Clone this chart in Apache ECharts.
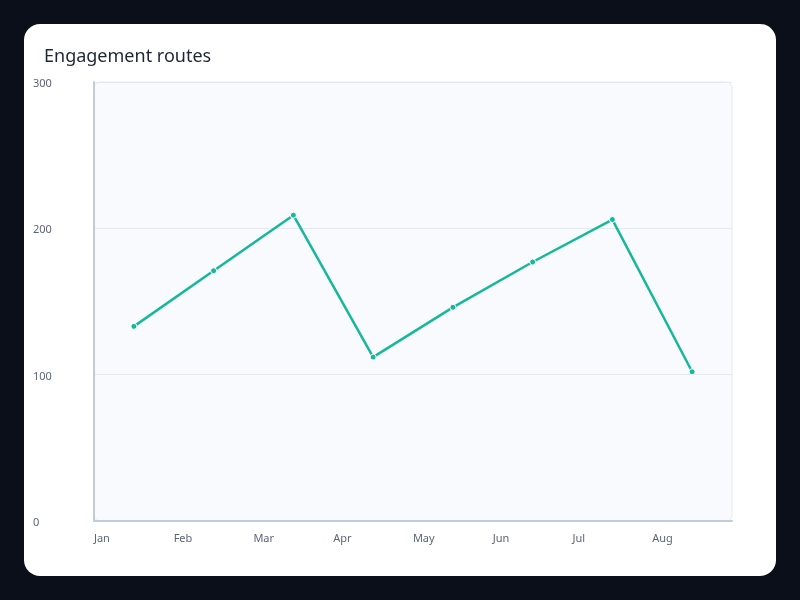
<!DOCTYPE html>
<html>
<head>
<meta charset="utf-8">
<script src="https://cdn.jsdelivr.net/npm/echarts@6/dist/echarts.min.js"></script>
<style>
    html, body { margin: 0; padding: 0; background: #0b0f19; }
    #card { position: absolute; left: 24px; top: 24px; width: 752px; height: 552px; background: #ffffff; border-radius: 16px; }
    #main { position: absolute; left: 0; top: 0; width: 800px; height: 600px; }
</style>
</head>
<body>
<div id="card"></div>
<div id="main"></div>
<script>
var months = ['Jan', 'Feb', 'Mar', 'Apr', 'May', 'Jun', 'Jul', 'Aug'];
var routeValues = [133, 171, 209, 112, 146, 177, 206, 102];
var yTicks = [0, 100, 200, 300];

var lineColor = '#17b79c';
var labelColor = '#5b6478';

var chart = echarts.init(document.getElementById('main'));

var option = {
    backgroundColor: 'transparent',
    textStyle: { fontFamily: 'Noto Sans' },
    title: {
        text: 'Engagement routes',
        left: 39,
        top: 43,
        textStyle: { fontFamily: 'Noto Sans', fontSize: 18, fontWeight: 'normal', color: '#1e2535' }
    },
    grid: { left: 94, right: 68, top: 82, bottom: 79, containLabel: false },
    graphic: [
        {
            type: 'rect',
            z: -10,
            silent: true,
            shape: { x: 94, y: 82, width: 638, height: 439, r: 6 },
            style: { fill: '#f8fafe', stroke: '#e4e9f1', lineWidth: 1 }
        }
    ],
    xAxis: {
        type: 'category',
        data: months,
        boundaryGap: true,
        axisLine: { show: true, lineStyle: { color: '#c2cbd8', width: 2 } },
        axisTick: { show: false },
        axisLabel: {
            margin: 12,
            color: labelColor,
            fontSize: 11,
            formatter: function (v) { return '{a|' + v + '}'; },
            rich: { a: { width: 80, align: 'left', color: labelColor, fontSize: 11, fontFamily: 'Noto Sans' } }
        },
        splitLine: { show: false }
    },
    yAxis: {
        type: 'value',
        min: yTicks[0],
        max: yTicks[yTicks.length - 1],
        interval: 100,
        axisLine: { show: true, lineStyle: { color: '#c2cbd8', width: 2 } },
        axisTick: { show: false },
        axisLabel: {
            align: 'left',
            margin: 61,
            color: labelColor,
            fontSize: 11,
            formatter: function (v) { return '{v|' + v + '}'; },
            rich: { v: { padding: [4, 0, 0, 0], color: labelColor, fontSize: 11, fontFamily: 'Noto Sans' } }
        },
        splitLine: { show: true, lineStyle: { color: '#e4e8ef', width: 1 } }
    },
    series: [
        {
            name: 'Engagement routes',
            type: 'line',
            data: routeValues,
            symbol: 'circle',
            symbolSize: 6,
            showSymbol: true,
            lineStyle: { color: lineColor, width: 2.5 },
            itemStyle: { color: lineColor, borderColor: '#ffffff', borderWidth: 1 },
            animation: false
        }
    ]
};

chart.setOption(option);
window.onresize = chart.resize;
</script>
</body>
</html>
